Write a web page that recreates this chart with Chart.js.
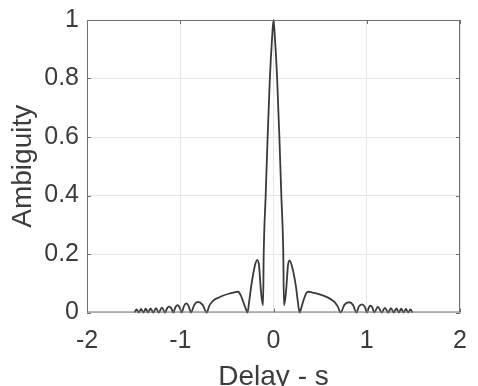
<!DOCTYPE html>
<html>
<head>
<meta charset="utf-8">
<script src="https://cdn.jsdelivr.net/npm/chart.js@4/dist/chart.umd.min.js"></script>
<style>
  html, body { margin: 0; padding: 0; background: #fff; overflow: hidden; }
  #wrap { width: 478px; height: 400px; position: relative; }
</style>
</head>
<body>
<div id="wrap"><canvas id="c"></canvas></div>
<script>
// values (delay in s, normalised ambiguity)
const delay = [
  -1.490, -1.468, -1.445, -1.420, -1.395, -1.370, -1.345, -1.318, -1.290, -1.260,
  -1.230, -1.197, -1.163, -1.140, -1.120, -1.097, -1.074, -1.052, -1.030, -1.008,
  -0.985, -0.960, -0.935, -0.910, -0.885, -0.850, -0.812, -0.760, -0.716, -0.690,
  -0.660, -0.627, -0.580, -0.538, -0.470, -0.410, -0.380, -0.350, -0.324, -0.300,
  -0.278, -0.260, -0.239, -0.200, -0.174, -0.155, -0.139, -0.125, -0.112, -0.105,
  -0.084, -0.063, -0.039, -0.015, 0.000,
  0.015, 0.039, 0.063, 0.084, 0.105, 0.112, 0.125, 0.139, 0.155, 0.172,
  0.198, 0.240, 0.260, 0.280, 0.300, 0.325, 0.350, 0.375, 0.410, 0.450,
  0.535, 0.585, 0.630, 0.660, 0.690, 0.720, 0.760, 0.810, 0.852, 0.890,
  0.915, 0.950, 0.978, 1.004, 1.022, 1.040, 1.060, 1.080, 1.120, 1.160,
  1.195, 1.230, 1.260, 1.290, 1.318, 1.345, 1.370, 1.395, 1.420, 1.445,
  1.468, 1.490
];
const ambiguity = [
  0.000, 0.011, 0.000, 0.012, 0.000, 0.013, 0.000, 0.014, 0.000, 0.015,
  0.000, 0.017, 0.000, 0.015, 0.020, 0.015, 0.000, 0.018, 0.025, 0.018,
  0.000, 0.022, 0.031, 0.022, 0.000, 0.026, 0.036, 0.026, 0.000, 0.022,
  0.036, 0.045, 0.052, 0.058, 0.065, 0.070, 0.071, 0.058, 0.036, 0.015,
  0.000, 0.040, 0.090, 0.160, 0.180, 0.160, 0.090, 0.045, 0.025, 0.200,
  0.400, 0.600, 0.800, 0.940, 1.000,
  0.940, 0.800, 0.600, 0.400, 0.200, 0.025, 0.045, 0.090, 0.160, 0.178,
  0.158, 0.090, 0.040, 0.000, 0.018, 0.045, 0.065, 0.071, 0.069, 0.066,
  0.058, 0.051, 0.042, 0.034, 0.020, 0.000, 0.026, 0.035, 0.026, 0.000,
  0.020, 0.028, 0.020, 0.000, 0.017, 0.023, 0.017, 0.000, 0.019, 0.000,
  0.016, 0.000, 0.015, 0.000, 0.014, 0.000, 0.013, 0.000, 0.012, 0.000,
  0.011, 0.000
];
const xTicks = [-2, -1, 0, 1, 2];
const yTicks = [0, 0.2, 0.4, 0.6, 0.8, 1];
const xLabel = 'Delay - s';
const yLabel = 'Ambiguity';

const textColor = '#3c3c3c';
const fontFamily = 'Liberation Sans, Arial, sans-serif';

// box round the axes with small inward ticks, matlab style
const frame = {
  id: 'frame',
  afterDraw(chart) {
    const { ctx, chartArea: a, scales } = chart;
    ctx.save();
    ctx.strokeStyle = '#707070';
    ctx.lineWidth = 1;
    ctx.strokeRect(a.left + 0.5, a.top + 0.5, a.right - a.left - 1, a.bottom - a.top - 1);
    ctx.beginPath();
    xTicks.forEach(v => {
      const px = Math.round(scales.x.getPixelForValue(v)) + 0.5;
      ctx.moveTo(px, a.bottom); ctx.lineTo(px, a.bottom - 4);
      ctx.moveTo(px, a.top); ctx.lineTo(px, a.top + 4);
    });
    yTicks.forEach(v => {
      const py = Math.round(scales.y.getPixelForValue(v)) + 0.5;
      ctx.moveTo(a.left, py); ctx.lineTo(a.left + 4, py);
      ctx.moveTo(a.right, py); ctx.lineTo(a.right - 4, py);
    });
    ctx.stroke();
    ctx.restore();
  }
};

new Chart(document.getElementById('c'), {
  type: 'line',
  data: {
    datasets: [{
      data: delay.map((d, i) => ({ x: d, y: ambiguity[i] })),
      borderColor: '#3a3a3a',
      borderWidth: 1.8,
      pointRadius: 0,
      cubicInterpolationMode: 'monotone',
      fill: false,
      clip: false
    }]
  },
  options: {
    responsive: true,
    maintainAspectRatio: false,
    animation: false,
    devicePixelRatio: 1,
    layout: { padding: { left: 0, right: 18, top: 20, bottom: 0 } },
    plugins: { legend: { display: false }, tooltip: { enabled: false } },
    scales: {
      x: {
        type: 'linear',
        min: -2, max: 2,
        afterBuildTicks: s => { s.ticks = xTicks.map(v => ({ value: v })); },
        afterFit: s => { s.height = 87.5; s.paddingLeft = 0; s.paddingRight = 0; },
        ticks: { color: textColor, font: { family: fontFamily, size: 25 }, padding: 14, maxRotation: 0 },
        grid: { color: '#e6e6e6', drawTicks: false },
        border: { display: false },
        title: { display: true, text: xLabel, color: textColor, font: { family: fontFamily, size: 28 }, padding: { top: 0, bottom: 6 } }
      },
      y: {
        min: 0, max: 1,
        afterBuildTicks: s => { s.ticks = yTicks.map(v => ({ value: v })); },
        afterFit: s => { s.width = 87; s.paddingTop = 0; s.paddingBottom = 0; },
        ticks: { color: textColor, font: { family: fontFamily, size: 25 }, padding: 8, callback: v => String(v) },
        grid: { color: '#e6e6e6', drawTicks: false },
        border: { display: false },
        title: { display: true, text: yLabel, color: textColor, font: { family: fontFamily, size: 28 }, padding: { top: 6, bottom: 0 } }
      }
    }
  },
  plugins: [frame]
});
</script>
</body>
</html>
